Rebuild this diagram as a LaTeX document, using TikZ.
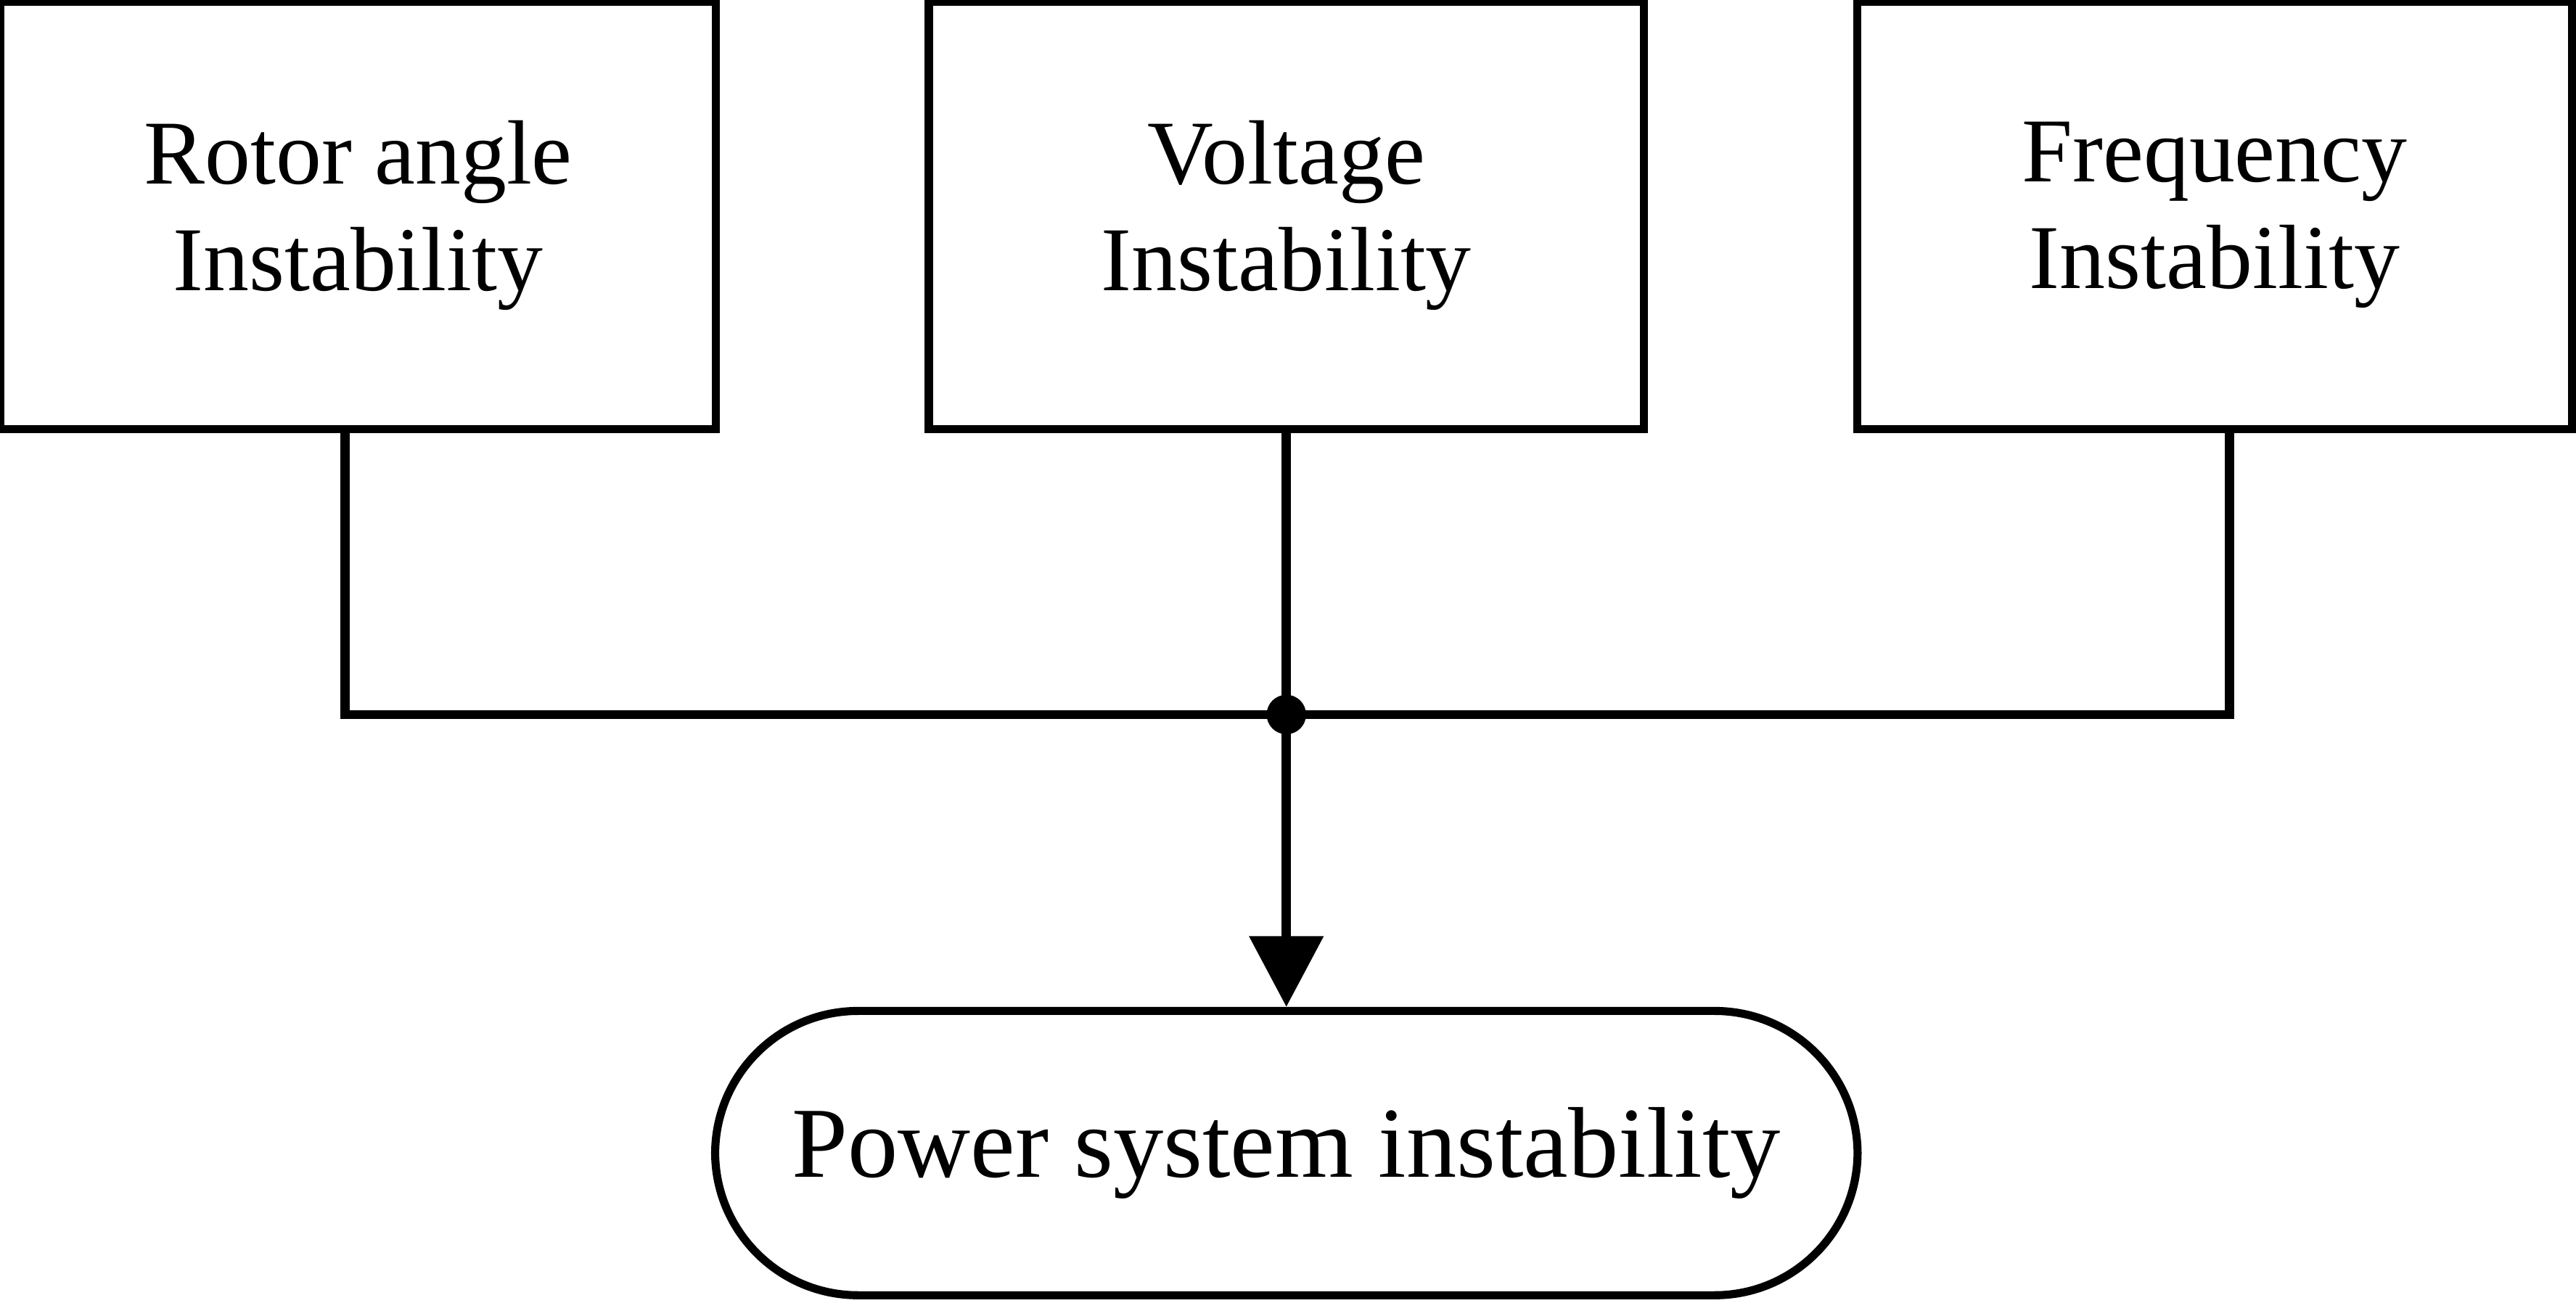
\documentclass[tikz,border=0pt]{standalone}
\usepackage{fontspec}
\setmainfont{Liberation Serif}
\usetikzlibrary{arrows.meta}
\begin{document}
\begin{tikzpicture}[x=0.01cm,y=-0.01cm,
  box/.style={draw,line width=1.4pt,minimum width=4.35cm,minimum height=2.6cm,align=center,font=\fontsize{15.8}{18.5}\selectfont,inner sep=0pt},
  wire/.style={line width=1.6pt}]
\useasboundingbox (0,0) rectangle (1568,793);
\node[box] (a) at (218,131) {Rotor angle\\Instability};
\node[box] (b) at (783,131) {Voltage\\Instability};
\node[box] (c) at (1348,131) {Frequency\\Instability};
\node[draw,line width=1.4pt,rounded corners=0.87cm,minimum width=6.95cm,minimum height=1.73cm,inner sep=0pt,font=\fontsize{17.4}{20}\selectfont] (p) at (783,702) {Power system instability};
\coordinate (j) at (783,435);
\coordinate (l) at (210,435);
\coordinate (r) at (1357,435);
\draw[wire] (a.south -| l) -- (l) -- (r) -- (c.south -| r);
\draw[wire] (b.south) -- (j);
\draw[wire,-{Triangle[length=0.43cm,width=0.44cm]}] (j) -- (p.north);
\fill (j) circle (0.12cm);
\end{tikzpicture}
\end{document}
